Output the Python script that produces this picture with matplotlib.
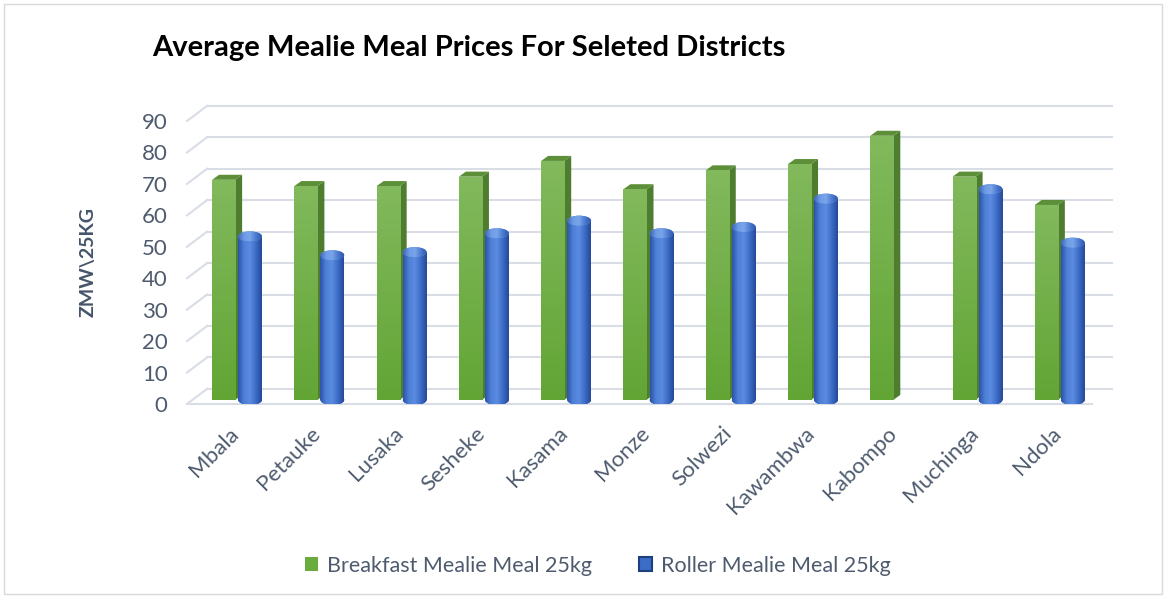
import numpy as np
import matplotlib
matplotlib.use("Agg")
import matplotlib.pyplot as plt
from matplotlib.patches import Polygon, Ellipse, Rectangle, Patch
from matplotlib.colors import LinearSegmentedColormap

districts = ["Mbala", "Petauke", "Lusaka", "Sesheke", "Kasama", "Monze",
             "Solwezi", "Kawambwa", "Kabompo", "Muchinga", "Ndola"]
breakfast = [70, 68, 68, 71, 76, 67, 73, 75, 84, 71, 62]
roller = [52, 46, 47, 53, 57, 53, 55, 64, 0, 67, 50]
yticks = list(range(0, 91, 10))

title = "Average Mealie Meal Prices For Seleted Districts"
ylabel = "ZMW\\25KG"
legend_labels = ["Breakfast Mealie Meal 25kg", "Roller Mealie Meal 25kg"]

txt = "#4e5b6e"
grid_c = "#d9dde6"

# fake 3d offsets (data units)
wall_dx, wall_dy = 0.243, 4.8
bar_dx, bar_dy = 0.085, 1.6
base = 1.3
gw, g_off = 0.28, -0.055
bw, b_off = 0.29, 0.267
cap_h = 3.2

green_grad = LinearSegmentedColormap.from_list("g", ["#62a535", "#82b95c"])
blue_grad = LinearSegmentedColormap.from_list(
    "b", ["#2b55a8", "#4f80d8", "#5b8ce0", "#3c6cc6", "#25499a"])
cap_grad = LinearSegmentedColormap.from_list(
    "c", ["#3c66b8", "#6e9be6", "#7aa5ea", "#4c7bd0", "#2f58aa"])

fig = plt.figure(figsize=(11.68, 5.98), dpi=100)
ax = fig.add_axes([187 / 1168, 194 / 598, 905 / 1168, 283 / 598])
ax.set_xlim(-0.5, len(districts) - 0.5)
ax.set_ylim(0, 90)

# back wall + floor gridlines
n = len(districts)
for v in yticks:
    ax.plot([-0.5, -0.5 + wall_dx], [v, v + wall_dy], color=grid_c, lw=1.5,
            zorder=0, clip_on=False)
    ax.plot([-0.5 + wall_dx, n - 0.5 + wall_dx], [v + wall_dy, v + wall_dy],
            color=grid_c, lw=1.5, zorder=0, clip_on=False)
ax.plot([-0.5, n - 0.5], [0, 0], color=grid_c, lw=1.5, zorder=0, clip_on=False)

x = np.arange(n)
hgrad = np.linspace(0, 1, 64).reshape(1, -1)
vgrad = np.linspace(0, 1, 64).reshape(-1, 1)

# green boxes
gbars = ax.bar(x + g_off, breakfast, gw, bottom=base, color="#6aab3e",
               zorder=2)
for i, (b, v) in enumerate(zip(gbars, breakfast)):
    x0, x1 = b.get_x(), b.get_x() + gw
    top = base + v
    im = ax.imshow(vgrad, cmap=green_grad, extent=[x0, x1, base, top],
                   origin="lower", aspect="auto", zorder=2.1)
    im.set_clip_path(b)
    ax.add_patch(Polygon([(x1, base), (x1 + bar_dx, base + bar_dy),
                          (x1 + bar_dx, top + bar_dy), (x1, top)],
                         closed=True, fc="#4f7d30", ec="none", zorder=2))
    ax.add_patch(Polygon([(x0, top), (x0 + bar_dx, top + bar_dy),
                          (x1 + bar_dx, top + bar_dy), (x1, top)],
                         closed=True, fc="#5c8f38", ec="none", zorder=2))

# blue cylinders
for xi, v in zip(x, roller):
    if v <= 0:
        continue
    cx = xi + b_off
    x0, x1 = cx - bw / 2, cx + bw / 2
    top = base + v
    body = Rectangle((x0, base), bw, v, fc="#3b6cc8", ec="none", zorder=3)
    ax.add_patch(body)
    im = ax.imshow(hgrad, cmap=blue_grad, extent=[x0, x1, base, top],
                   aspect="auto", zorder=3.1)
    im.set_clip_path(body)
    bot = Ellipse((cx, base), bw, cap_h, fc="#2f5cb0", ec="none", zorder=3)
    ax.add_patch(bot)
    im = ax.imshow(hgrad, cmap=blue_grad,
                   extent=[x0, x1, base - cap_h / 2, base + cap_h / 2],
                   aspect="auto", zorder=3.05)
    im.set_clip_path(bot)
    cap = Ellipse((cx, top), bw, cap_h, fc="#5b8ce0", ec="none", zorder=3.2)
    ax.add_patch(cap)
    im = ax.imshow(hgrad, cmap=cap_grad,
                   extent=[x0, x1, top - cap_h / 2, top + cap_h / 2],
                   aspect="auto", zorder=3.3)
    im.set_clip_path(cap)

ax.set_xlim(-0.5, n - 0.5)
ax.set_ylim(0, 90)

for s in ax.spines.values():
    s.set_visible(False)
ax.set_yticks(yticks)
ax.set_yticklabels([str(t) for t in yticks], fontsize=16, color=txt,
                   family="Lato")
ax.set_xticks(x)
ax.set_xticklabels(districts, rotation=45, ha="right",
                   rotation_mode="anchor", fontsize=16, color=txt,
                   family="Lato")
ax.tick_params(axis="y", length=0, pad=14)
ax.tick_params(axis="x", length=0, pad=14)

fig.text(152 / 1168, 550 / 598, title, fontsize=21, fontweight="bold",
         family="Lato", ha="left", va="center", color="black")
fig.text(88 / 1168, 0.562, ylabel, rotation=90, fontsize=14,
         fontweight="bold", family="Lato", color="#44546a",
         ha="center", va="center")

handles = [Patch(fc="#6aab3e", ec="none"),
           Patch(fc="#3b6cc8", ec="#1f3f7a", lw=1.5)]
fig.legend(handles, legend_labels, loc="center", bbox_to_anchor=(0.512, 0.054),
           ncol=2, frameon=False, handlelength=0.6,
           handleheight=0.6, handletextpad=0.4, columnspacing=2.2,
           prop={"family": "Lato", "size": 15.5}, labelcolor=txt)

fig.add_artist(Rectangle((4 / 1168, 4 / 598), 1158 / 1168, 590 / 598,
                         transform=fig.transFigure, fill=False,
                         ec="#d9d9d9", lw=1))

fig.savefig("out.png", dpi=100)
